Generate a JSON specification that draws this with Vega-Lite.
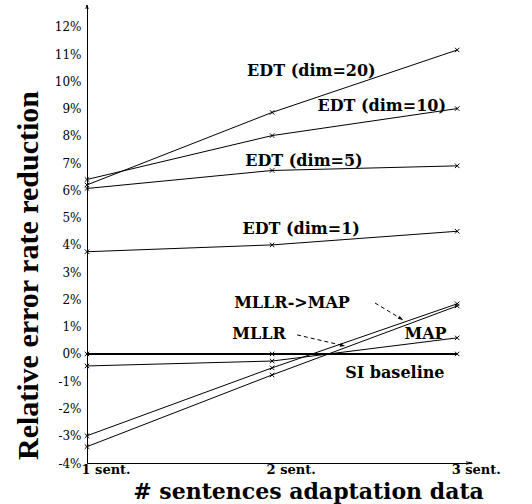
{
  "$schema": "https://vega.github.io/schema/vega-lite/v6.json",
  "width": 385,
  "height": 458,
  "autosize": {"type": "none"},
  "padding": {"left": 87, "top": 5, "right": 60, "bottom": 41},
  "background": "white",
  "config": {"view": {"stroke": null}, "axis": {"labelOverlap": false}},
  "datasets": {
    "series": [
      {"series": "EDT (dim=20)", "x": 1, "y": 6.2},
      {"series": "EDT (dim=20)", "x": 2, "y": 8.86},
      {"series": "EDT (dim=20)", "x": 3, "y": 11.15},
      {"series": "EDT (dim=10)", "x": 1, "y": 6.4},
      {"series": "EDT (dim=10)", "x": 2, "y": 8.01},
      {"series": "EDT (dim=10)", "x": 3, "y": 9.0},
      {"series": "EDT (dim=5)", "x": 1, "y": 6.07},
      {"series": "EDT (dim=5)", "x": 2, "y": 6.73},
      {"series": "EDT (dim=5)", "x": 3, "y": 6.9},
      {"series": "EDT (dim=1)", "x": 1, "y": 3.75},
      {"series": "EDT (dim=1)", "x": 2, "y": 4.0},
      {"series": "EDT (dim=1)", "x": 3, "y": 4.5},
      {"series": "MLLR->MAP", "x": 1, "y": -3.0},
      {"series": "MLLR->MAP", "x": 2, "y": -0.51},
      {"series": "MLLR->MAP", "x": 3, "y": 1.84},
      {"series": "MLLR", "x": 1, "y": -3.4},
      {"series": "MLLR", "x": 2, "y": -0.77},
      {"series": "MLLR", "x": 3, "y": 1.76},
      {"series": "MAP", "x": 1, "y": -0.44},
      {"series": "MAP", "x": 2, "y": -0.26},
      {"series": "MAP", "x": 3, "y": 0.59},
      {"series": "SI baseline", "x": 1, "y": 0},
      {"series": "SI baseline", "x": 2, "y": 0},
      {"series": "SI baseline", "x": 3, "y": 0}
    ],
    "labels": [
      {"text": "EDT (dim=20)", "x": 1.865, "y": 10.38},
      {"text": "EDT (dim=10)", "x": 2.245, "y": 9.10},
      {"text": "EDT (dim=5)", "x": 1.855, "y": 7.08},
      {"text": "EDT (dim=1)", "x": 1.840, "y": 4.59},
      {"text": "MLLR->MAP", "x": 1.795, "y": 1.87},
      {"text": "MLLR", "x": 1.785, "y": 0.73},
      {"text": "MAP", "x": 2.715, "y": 0.73},
      {"text": "SI baseline", "x": 2.395, "y": -0.70}
    ],
    "arrows": [
      {"x": 2.556, "y": 1.87, "x2": 2.707, "y2": 1.25, "angle": 31},
      {"x": 2.135, "y": 0.70, "x2": 2.394, "y2": 0.29, "angle": 13}
    ],
    "axisarrows": [
      {"x": 1, "y": 12.8, "dir": "up"},
      {"x": 3.08, "y": -4, "dir": "right"}
    ]
  },
  "layer": [
    {
      "data": {"name": "series"},
      "mark": {"type": "line", "color": "black", "clip": false},
      "encoding": {
        "x": {
          "field": "x", "type": "quantitative",
          "scale": {"domain": [1, 3.08], "nice": false, "zero": false},
          "axis": {
            "values": [1, 2, 3],
            "labelExpr": "datum.value + ' sent.'",
            "ticks": false, "tickSize": 0, "grid": false,
            "domainColor": "black", "domainWidth": 1,
            "labelFont": "DejaVu Serif", "labelFontWeight": "bold", "labelFontSize": 13,
            "labelColor": "black",
            "labelAlign": "left", "labelOffset": -6, "labelBaseline": "alphabetic", "labelPadding": 10,
            "labelFlush": false, "labelOverlap": false, "labelBound": false,
            "title": "# sentences adaptation data",
            "titleFont": "DejaVu Serif", "titleFontWeight": "bold", "titleFontSize": 22,
            "titleColor": "black",
            "titleAnchor": "start", "titleAlign": "center", "titleX": 221, "titleY": 35,
            "titleBaseline": "alphabetic"
          }
        },
        "y": {
          "field": "y", "type": "quantitative",
          "scale": {"domain": [-4, 12.8], "nice": false, "zero": false},
          "axis": {
            "values": [-4, -3, -2, -1, 0, 1, 2, 3, 4, 5, 6, 7, 8, 9, 10, 11, 12],
            "tickCount": 17,
            "labelExpr": "datum.value + '%'",
            "ticks": false, "tickSize": 0, "grid": false,
            "domainColor": "black", "domainWidth": 1,
            "labelFont": "DejaVu Serif", "labelFontSize": 12, "labelColor": "black",
            "labelPadding": 6, "labelOverlap": false, "labelFlush": false, "labelBound": false,
            "title": "Relative error rate reduction",
            "titleFont": "Liberation Serif", "titleFontWeight": "bold", "titleFontSize": 30,
            "titleColor": "black",
            "titleAnchor": "start", "titleAlign": "center", "titleAngle": -90,
            "titleX": -50, "titleY": 270, "titleBaseline": "alphabetic"
          }
        },
        "detail": {"field": "series"},
        "strokeWidth": {"condition": {"test": "datum.series === 'SI baseline'", "value": 2}, "value": 1}
      }
    },
    {
      "data": {"name": "series"},
      "mark": {"type": "point", "shape": "M-1,-1L1,1M-1,1L1,-1", "filled": false, "color": "black", "opacity": 1, "size": 20, "strokeWidth": 1, "clip": false},
      "encoding": {
        "x": {"field": "x", "type": "quantitative"},
        "y": {"field": "y", "type": "quantitative"}
      }
    },
    {
      "data": {"name": "labels"},
      "mark": {"type": "text", "font": "DejaVu Serif", "fontWeight": "bold", "fontSize": 16, "align": "left", "baseline": "middle", "color": "black"},
      "encoding": {
        "x": {"field": "x", "type": "quantitative"},
        "y": {"field": "y", "type": "quantitative"},
        "text": {"field": "text"}
      }
    },
    {
      "data": {"name": "arrows"},
      "mark": {"type": "rule", "color": "black", "strokeDash": [4, 3], "strokeWidth": 1},
      "encoding": {
        "x": {"field": "x", "type": "quantitative"},
        "y": {"field": "y", "type": "quantitative"},
        "x2": {"field": "x2"},
        "y2": {"field": "y2"}
      }
    },
    {
      "data": {"name": "arrows"},
      "mark": {"type": "point", "shape": "M0,0L-2,-0.7L-2,0.7Z", "filled": true, "color": "black", "opacity": 1, "size": 25},
      "encoding": {
        "x": {"field": "x2", "type": "quantitative"},
        "y": {"field": "y2", "type": "quantitative"},
        "angle": {"field": "angle", "type": "quantitative", "scale": null}
      }
    },
    {
      "data": {"name": "axisarrows"},
      "transform": [{"filter": "datum.dir === 'up'"}],
      "mark": {"type": "point", "shape": "M-0.6,2L0,0L0.6,2", "filled": false, "color": "black", "opacity": 1, "size": 16, "strokeWidth": 1, "clip": false},
      "encoding": {
        "x": {"field": "x", "type": "quantitative"},
        "y": {"field": "y", "type": "quantitative"}
      }
    },
    {
      "data": {"name": "axisarrows"},
      "transform": [{"filter": "datum.dir === 'right'"}],
      "mark": {"type": "point", "shape": "M-3,-0.6L0,0L-3,0.6", "filled": false, "color": "black", "opacity": 1, "size": 16, "strokeWidth": 1, "clip": false},
      "encoding": {
        "x": {"field": "x", "type": "quantitative"},
        "y": {"field": "y", "type": "quantitative"}
      }
    }
  ]
}
